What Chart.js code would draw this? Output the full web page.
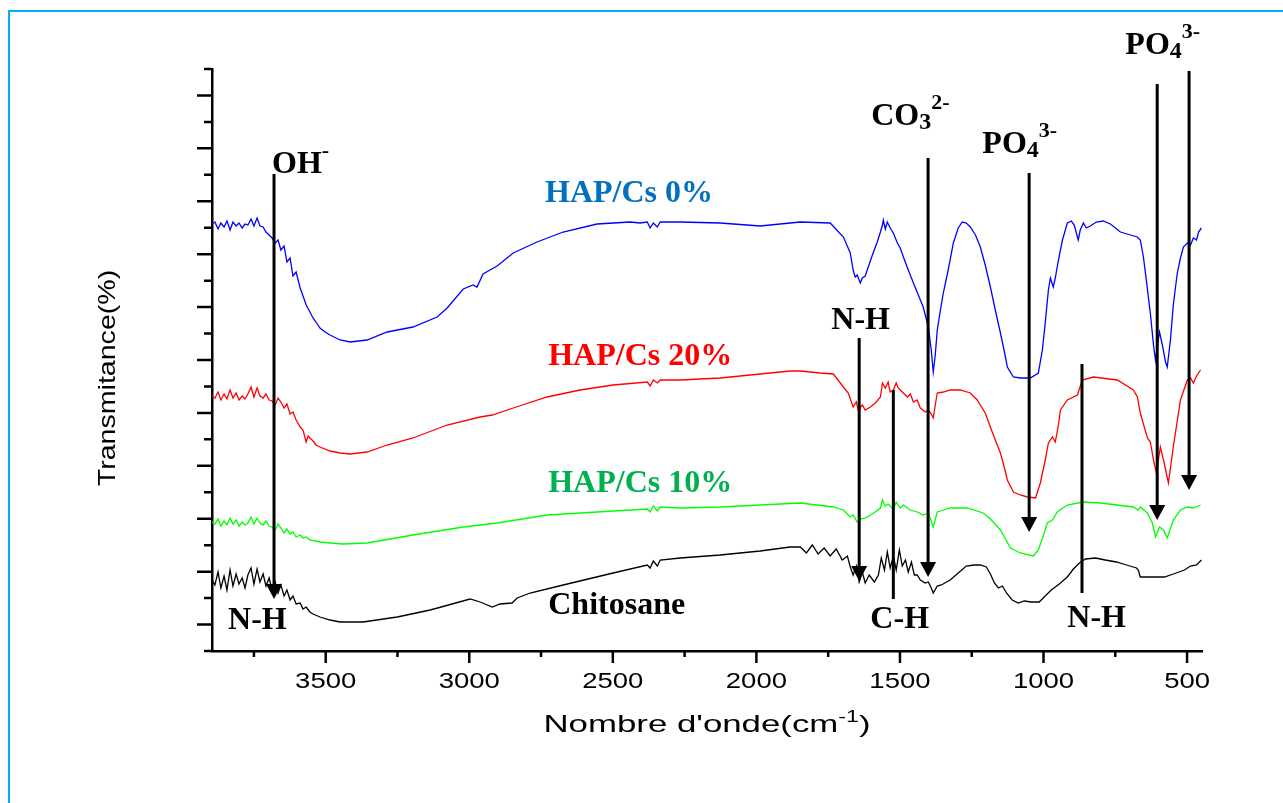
<!DOCTYPE html>
<html lang="fr">
<head>
    <meta charset="UTF-8">
    <title>FTIR HAP/Cs</title>
    <script src="https://cdn.jsdelivr.net/npm/chart.js"></script>
    <style>
        html, body { margin:0; padding:0; background:#fff; }
        canvas { display:block; }
    </style>
</head>
<body>
    <canvas id="myChart" width="1283" height="803"></canvas>

    <script>
        // axe x : nombre d'onde (cm-1), sens inverse
        const xMin = 448, xMax = 3896;
        const xTickLabels = [3500, 3000, 2500, 2000, 1500, 1000, 500];
        const xMinorTicks = [3750, 3250, 2750, 2250, 1750, 1250, 750];
        // axe y : transmittance (u.a.), pas de valeurs affichées
        const yMax = 58.2;
        const yTickCount = 22;

        // spectres [nombre d'onde, transmittance]
        const hap0 = [[3896,42.7],[3886,42.9],[3875,42.2],[3865,42.8],[3854,42.4],[3844,43.0],[3833,42.1],[3823,42.9],[3812,42.5],[3802,42.8],[3791,42.3],[3781,42.7],[3771,42.6],[3760,43.2],[3750,42.5],[3739,43.3],[3729,42.5],[3718,42.4],[3708,41.9],[3697,41.6],[3687,41.3],[3676,40.8],[3666,41.1],[3656,40.1],[3645,40.5],[3635,38.9],[3624,39.3],[3614,37.5],[3603,37.9],[3589,36.3],[3579,35.5],[3568,34.6],[3555,33.9],[3544,33.3],[3534,32.9],[3520,32.3],[3502,31.9],[3485,31.6],[3450,31.1],[3415,30.9],[3356,31.1],[3286,31.9],[3196,32.4],[3112,33.4],[3077,34.3],[3021,36.2],[2987,36.6],[2973,36.4],[2952,37.7],[2903,38.5],[2847,39.8],[2764,40.9],[2673,41.9],[2555,42.7],[2440,42.9],[2405,42.8],[2380,42.9],[2370,42.3],[2359,42.8],[2345,42.4],[2335,42.9],[2265,42.9],[2126,42.8],[1987,42.5],[1847,42.9],[1743,42.8],[1697,41.4],[1673,39.8],[1663,38.1],[1656,37.4],[1649,37.6],[1638,36.8],[1631,37.3],[1621,37.5],[1614,38.1],[1596,39.6],[1579,40.9],[1568,41.9],[1561,42.6],[1558,43.1],[1551,42.2],[1544,42.9],[1534,42.3],[1523,41.8],[1509,40.8],[1499,40.3],[1488,39.4],[1471,38.1],[1453,36.8],[1436,35.6],[1419,34.4],[1401,32.4],[1391,30.1],[1384,27.9],[1377,29.6],[1370,32.1],[1359,34.1],[1349,35.8],[1332,38.1],[1314,40.8],[1297,42.3],[1283,42.9],[1269,42.8],[1255,42.4],[1237,41.6],[1220,40.4],[1203,38.6],[1185,36.4],[1168,34.1],[1150,31.8],[1136,29.9],[1126,28.4],[1105,27.4],[1081,27.3],[1046,27.3],[1018,27.8],[1004,30.1],[994,32.8],[983,36.1],[976,37.3],[966,36.4],[959,37.3],[948,39.1],[934,41.1],[917,42.8],[903,43.0],[893,42.6],[879,41.1],[872,42.1],[861,42.8],[851,42.3],[837,42.5],[816,42.9],[792,43.0],[767,42.7],[732,41.9],[697,41.6],[673,41.4],[663,41.1],[652,39.4],[642,37.1],[628,33.8],[617,30.6],[610,29.1],[603,30.6],[596,31.9],[586,30.6],[575,28.9],[569,28.4],[558,31.1],[548,34.6],[534,37.8],[523,39.3],[513,40.4],[499,40.8],[488,40.6],[478,41.3],[467,41.1],[460,41.9],[450,42.3]];

        const hap20 = [[3896,25.5],[3886,25.3],[3875,25.9],[3865,25.1],[3854,25.7],[3844,25.2],[3833,26.1],[3823,25.3],[3812,25.8],[3802,25.1],[3791,25.5],[3781,25.2],[3771,25.7],[3760,26.4],[3750,25.4],[3739,26.3],[3729,25.5],[3718,25.3],[3708,25.7],[3697,25.1],[3687,25.0],[3676,24.6],[3666,25.3],[3656,24.9],[3645,24.3],[3635,24.7],[3624,23.7],[3614,23.9],[3603,23.1],[3589,22.4],[3579,22.1],[3568,20.9],[3561,21.5],[3555,21.3],[3544,21.0],[3534,20.6],[3520,20.4],[3485,20.0],[3450,19.8],[3415,19.7],[3356,19.9],[3286,20.6],[3196,21.3],[3077,22.6],[2962,23.4],[2920,23.6],[2847,24.3],[2729,25.4],[2614,26.1],[2499,26.6],[2380,26.9],[2370,26.5],[2359,27.1],[2345,26.8],[2335,27.1],[2265,27.1],[2126,27.3],[1987,27.7],[1882,28.0],[1847,28.0],[1778,27.8],[1732,27.7],[1697,26.4],[1680,25.8],[1663,24.4],[1652,24.9],[1645,24.1],[1631,24.6],[1621,24.1],[1603,24.4],[1586,24.8],[1568,25.4],[1561,26.8],[1551,26.3],[1541,26.9],[1534,25.9],[1523,26.1],[1513,26.8],[1506,26.3],[1492,25.9],[1474,25.4],[1464,25.7],[1453,24.9],[1440,25.1],[1429,24.3],[1412,23.9],[1401,24.1],[1391,23.7],[1384,23.3],[1377,24.6],[1370,25.8],[1349,25.9],[1325,26.1],[1290,26.1],[1255,25.8],[1231,25.1],[1203,23.8],[1185,22.4],[1168,21.1],[1150,19.8],[1136,18.3],[1126,17.1],[1105,15.9],[1081,15.6],[1056,15.4],[1028,15.3],[1011,16.8],[994,19.1],[983,20.8],[969,21.4],[959,20.9],[948,22.6],[941,24.1],[917,25.1],[882,25.6],[865,27.1],[826,27.4],[743,27.1],[687,26.1],[673,25.4],[663,23.8],[638,21.3],[628,20.9],[617,19.1],[607,17.8],[593,20.4],[582,19.1],[565,16.8],[548,20.4],[523,25.1],[499,27.1],[488,27.3],[478,26.8],[467,27.5],[453,28.1]];

        const hap10 = [[3896,12.9],[3886,12.7],[3875,13.2],[3865,12.5],[3854,13.0],[3844,12.6],[3833,13.3],[3823,12.7],[3812,13.1],[3802,12.5],[3791,12.9],[3781,12.6],[3771,12.8],[3760,13.4],[3750,12.7],[3739,13.3],[3729,12.8],[3718,12.6],[3708,13.0],[3697,12.5],[3687,12.4],[3676,12.1],[3666,12.7],[3656,12.3],[3645,11.8],[3635,12.2],[3624,11.7],[3614,11.9],[3603,11.4],[3589,11.6],[3579,11.3],[3568,11.4],[3555,11.1],[3520,10.9],[3485,10.8],[3440,10.7],[3356,10.8],[3196,11.6],[3021,12.4],[2903,12.8],[2729,13.6],[2555,13.9],[2380,14.2],[2370,13.9],[2359,14.5],[2345,14.0],[2335,14.4],[2265,14.3],[2126,14.4],[1987,14.6],[1847,14.8],[1732,14.4],[1697,14.1],[1673,13.4],[1663,13.6],[1649,12.9],[1638,13.2],[1621,13.3],[1614,13.4],[1586,13.9],[1568,14.3],[1561,15.1],[1551,14.5],[1541,14.7],[1523,14.2],[1513,14.9],[1499,14.3],[1488,14.6],[1464,14.1],[1440,13.9],[1419,13.6],[1401,13.8],[1384,12.4],[1370,13.9],[1349,14.1],[1325,14.3],[1265,14.3],[1210,13.8],[1185,13.2],[1150,12.1],[1115,10.3],[1081,9.8],[1035,9.5],[1018,10.1],[1000,11.6],[987,12.8],[969,13.1],[952,13.9],[917,14.6],[861,14.9],[802,14.8],[687,14.4],[670,14.1],[663,14.4],[638,13.8],[621,12.8],[610,11.4],[596,12.4],[582,12.1],[569,11.3],[548,13.1],[523,14.1],[499,14.4],[478,14.3],[453,14.6]];

        const chitosane = [[3896,7.1],[3886,6.6],[3875,7.9],[3865,6.3],[3854,7.5],[3844,6.1],[3833,8.1],[3823,6.5],[3812,7.7],[3802,6.7],[3791,7.3],[3781,6.3],[3771,7.6],[3760,8.3],[3750,6.7],[3739,8.2],[3729,6.9],[3718,7.7],[3708,6.5],[3697,7.3],[3687,6.1],[3676,6.9],[3666,5.8],[3656,6.6],[3645,5.5],[3635,6.1],[3624,5.1],[3614,5.5],[3603,4.7],[3589,4.8],[3579,4.2],[3568,4.4],[3555,3.9],[3544,3.7],[3520,3.4],[3485,3.1],[3450,2.9],[3370,2.9],[3251,3.4],[3136,4.1],[2997,5.2],[2962,4.9],[2920,4.4],[2893,4.7],[2851,4.8],[2833,5.3],[2788,5.8],[2673,6.6],[2499,7.8],[2380,8.6],[2370,8.3],[2359,9.0],[2345,8.5],[2335,9.1],[2265,9.3],[2126,9.6],[1987,10.0],[1882,10.4],[1847,10.4],[1826,9.8],[1805,10.6],[1785,9.7],[1764,10.3],[1743,9.5],[1722,10.2],[1701,9.1],[1683,9.5],[1673,8.4],[1663,7.6],[1652,8.5],[1642,6.9],[1631,7.9],[1621,6.8],[1607,7.6],[1589,6.9],[1575,7.6],[1565,9.3],[1554,8.1],[1544,9.9],[1534,8.3],[1523,9.5],[1513,8.1],[1502,10.1],[1492,8.5],[1481,9.1],[1471,7.9],[1460,8.9],[1450,7.6],[1440,7.6],[1429,7.1],[1412,6.8],[1401,6.9],[1391,6.3],[1384,5.8],[1370,6.5],[1356,6.6],[1325,7.1],[1297,7.8],[1269,8.5],[1241,8.6],[1220,8.6],[1199,8.4],[1185,7.7],[1171,6.8],[1157,6.3],[1143,6.5],[1129,5.8],[1109,5.1],[1088,4.8],[1067,5.0],[1042,4.9],[1015,4.9],[994,5.5],[973,6.1],[945,6.7],[917,7.4],[896,8.2],[875,8.8],[854,9.2],[819,9.3],[785,9.1],[746,8.9],[711,8.6],[676,8.3],[670,8.1],[663,7.4],[628,7.4],[579,7.4],[548,7.7],[509,8.1],[488,8.5],[467,8.6],[450,9.1]];

        const seriesNames = ['HAP/Cs 0%', 'HAP/Cs 20%', 'HAP/Cs 10%', 'Chitosane'];
        const seriesColors = ['#0000FF', '#FF0000', '#00FF00', '#000000'];

        // flèches : [nombre d'onde, y haut, y bas, pointe]
        const arrows = [
            [3680, 47.7, 5.2, true],
            [1642, 31.3, 7.0, true],
            [1523, 26.1, 5.2, false],
            [1402, 49.3, 7.4, true],
            [1050, 47.8, 11.9, true],
            [866, 28.7, 5.8, false],
            [604, 56.7, 13.1, true],
            [493, 58.0, 16.1, true]
        ];

        // étiquettes : [texte, indice, exposant, nombre d'onde (gauche), y (ligne de base), couleur]
        const labels = [
            ['OH', '', '-', 3687, 47.8, '#000'],
            ['HAP/Cs 0%', '', '', 2736, 44.9, '#0070C0'],
            ['HAP/Cs 20%', '', '', 2725, 28.6, '#FF0000'],
            ['HAP/Cs 10%', '', '', 2725, 15.9, '#00B050'],
            ['Chitosane', '', '', 2725, 3.7, '#000'],
            ['N-H', '', '', 3840, 2.2, '#000'],
            ['N-H', '', '', 1739, 32.2, '#000'],
            ['C-H', '', '', 1603, 2.3, '#000'],
            ['N-H', '', '', 917, 2.4, '#000'],
            ['CO', '3', '2-', 1600, 52.6, '#000'],
            ['PO', '4', '3-', 1213, 49.8, '#000'],
            ['PO', '4', '3-', 715, 59.7, '#000']
        ];

        const SANS = '"Liberation Sans", Arial, sans-serif';
        const SERIF = '"Liberation Serif", "Times New Roman", serif';

        function drawStretched(ctx, parts, cx, cy, sx) {
            // parts : [texte, police, décalage y]
            ctx.save();
            ctx.translate(cx, cy);
            ctx.scale(sx, 1);
            let total = 0;
            parts.forEach(p => { ctx.font = p[1]; total += ctx.measureText(p[0]).width; });
            let x = -total / 2;
            ctx.textAlign = 'left';
            parts.forEach(p => {
                ctx.font = p[1];
                ctx.fillText(p[0], x, p[2]);
                x += ctx.measureText(p[0]).width;
            });
            ctx.restore();
        }

        const ftirDecor = {
            id: 'ftirDecor',
            beforeDraw(chart) {
                const ctx = chart.ctx;
                ctx.save();
                ctx.fillStyle = '#fff';
                ctx.fillRect(0, 0, chart.width, chart.height);
                ctx.strokeStyle = '#00B0F0';
                ctx.lineWidth = 2;
                ctx.beginPath();
                ctx.moveTo(9, chart.height);
                ctx.lineTo(9, 11);
                ctx.lineTo(chart.width, 11);
                ctx.stroke();
                ctx.restore();
            },
            afterDatasetsDraw(chart) {
                const ctx = chart.ctx, xs = chart.scales.x, ys = chart.scales.y;
                ctx.save();
                ctx.strokeStyle = '#000';
                ctx.fillStyle = '#000';
                ctx.lineWidth = 3;
                arrows.forEach(a => {
                    const px = xs.getPixelForValue(a[0]);
                    const p1 = ys.getPixelForValue(a[1]);
                    const p2 = ys.getPixelForValue(a[2]);
                    ctx.beginPath();
                    ctx.moveTo(px, p1);
                    ctx.lineTo(px, a[3] ? p2 - 12 : p2);
                    ctx.stroke();
                    if (a[3]) {
                        ctx.beginPath();
                        ctx.moveTo(px - 8, p2 - 15);
                        ctx.lineTo(px + 8, p2 - 15);
                        ctx.lineTo(px, p2);
                        ctx.closePath();
                        ctx.fill();
                    }
                });
                ctx.textAlign = 'left';
                ctx.textBaseline = 'alphabetic';
                labels.forEach(l => {
                    let x = xs.getPixelForValue(l[3]);
                    const y = ys.getPixelForValue(l[4]);
                    ctx.fillStyle = l[5];
                    ctx.font = 'bold 32px ' + SERIF;
                    ctx.fillText(l[0], x, y);
                    x += ctx.measureText(l[0]).width;
                    if (l[1]) {
                        ctx.font = 'bold 24px ' + SERIF;
                        ctx.fillText(l[1], x, y + 4);
                        x += ctx.measureText(l[1]).width;
                    }
                    if (l[2]) {
                        ctx.font = 'bold 22px ' + SERIF;
                        ctx.fillText(l[2], x, y - 16);
                    }
                });
                ctx.restore();
            },
            afterDraw(chart) {
                const ctx = chart.ctx, xs = chart.scales.x, ys = chart.scales.y;
                const area = chart.chartArea;
                ctx.save();
                ctx.strokeStyle = '#000';
                ctx.lineWidth = 2.5;
                ctx.beginPath();
                xTickLabels.forEach(v => {
                    const px = xs.getPixelForValue(v);
                    ctx.moveTo(px, area.bottom);
                    ctx.lineTo(px, area.bottom + 12);
                });
                xMinorTicks.forEach(v => {
                    const px = xs.getPixelForValue(v);
                    ctx.moveTo(px, area.bottom);
                    ctx.lineTo(px, area.bottom + 6);
                });
                for (let i = 0; i <= yTickCount; i++) {
                    const py = ys.getPixelForValue(i * yMax / yTickCount);
                    const len = i % 2 ? 15 : 8;
                    ctx.moveTo(area.left - len, py);
                    ctx.lineTo(area.left, py);
                }
                ctx.stroke();

                // libellés de l'axe x
                ctx.fillStyle = '#000';
                ctx.textBaseline = 'middle';
                xTickLabels.forEach(v => {
                    drawStretched(ctx, [[String(v), '22px ' + SANS, 0]], xs.getPixelForValue(v), area.bottom + 31, 1.25);
                });

                // titres des axes
                ctx.textBaseline = 'alphabetic';
                drawStretched(ctx, [
                    ["Nombre d'onde(cm", '24px ' + SANS, 0],
                    ['-1', '16px ' + SANS, -10],
                    [')', '24px ' + SANS, 0]
                ], (area.left + area.right) / 2, area.bottom + 81, 1.45);

                ctx.save();
                ctx.translate(area.left - 97, (area.top + area.bottom) / 2 + 18);
                ctx.rotate(-Math.PI / 2);
                drawStretched(ctx, [['Transmitance(%)', '24px ' + SANS, 0]], 0, 0, 1.19);
                ctx.restore();
                ctx.restore();
            }
        };

        const datasets = [hap0, hap20, hap10, chitosane].map((s, i) => ({
            label: seriesNames[i],
            data: s.map(p => ({ x: p[0], y: p[1] })),
            borderColor: seriesColors[i],
            backgroundColor: seriesColors[i],
            borderWidth: 1.3,
            pointRadius: 0,
            showLine: true,
            tension: 0
        }));

        const ctx = document.querySelector('#myChart').getContext('2d');
        const myChart = new Chart(ctx, {
            type: 'scatter',
            data: { datasets: datasets },
            options: {
                responsive: false,
                animation: false,
                events: [],
                layout: { padding: { left: 0, top: 69, right: 81, bottom: 0 } },
                plugins: { legend: { display: false }, tooltip: { enabled: false } },
                scales: {
                    x: {
                        type: 'linear',
                        reverse: true,
                        min: xMin,
                        max: xMax,
                        grid: { display: false, drawTicks: false },
                        border: { display: true, color: '#000', width: 2.5 },
                        ticks: { display: false },
                        afterFit: s => { s.height = 152; }
                    },
                    y: {
                        min: 0,
                        max: yMax,
                        grid: { display: false, drawTicks: false },
                        border: { display: true, color: '#000', width: 2.5 },
                        ticks: { display: false },
                        afterFit: s => { s.width = 212; }
                    }
                }
            },
            plugins: [ftirDecor]
        });
    </script>
</body>
</html>
